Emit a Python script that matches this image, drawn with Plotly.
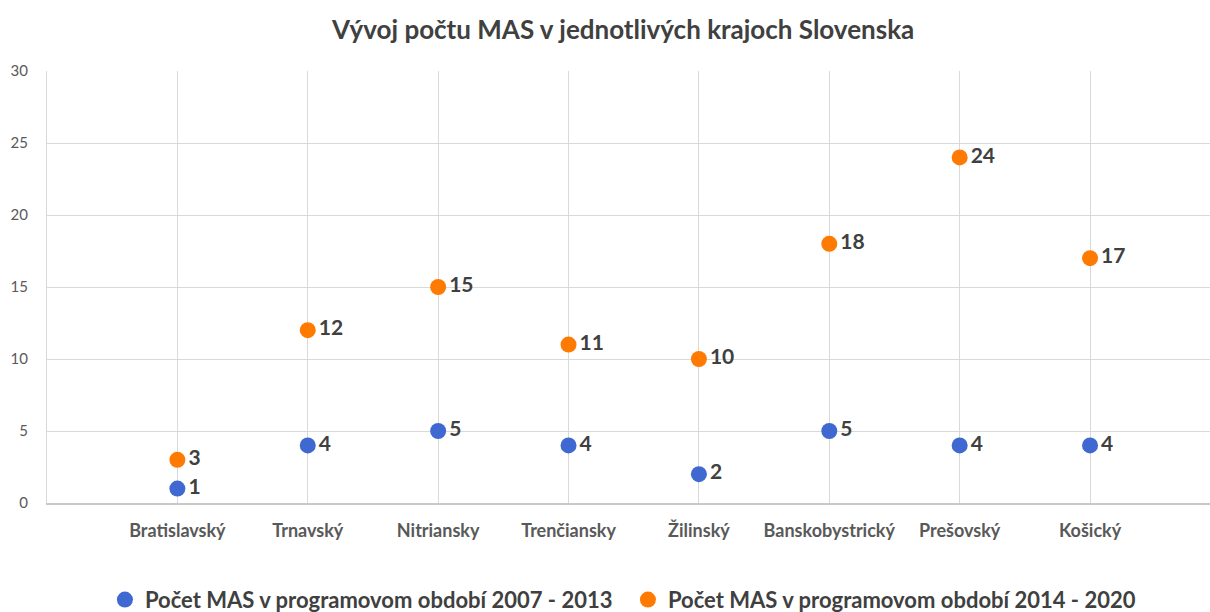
import plotly.graph_objects as go

# kraje a počty MAS
kraje = ["Bratislavský", "Trnavský", "Nitriansky", "Trenčiansky", "Žilinský",
         "Banskobystrický", "Prešovský", "Košický"]
pozicie = [1, 2, 3, 4, 5, 6, 7, 8]
mas_2007_2013 = [1, 4, 5, 4, 2, 5, 4, 4]
mas_2014_2020 = [3, 12, 15, 11, 10, 18, 24, 17]

nazov_1 = "Počet MAS v programovom období 2007 - 2013"
nazov_2 = "Počet MAS v programovom období 2014 - 2020"

font_name = "Lato"
text_color = "#404040"

fig = go.Figure()

fig.add_trace(go.Scatter(
    x=pozicie, y=mas_2007_2013, mode="markers+text", name=nazov_1,
    text=[str(v) for v in mas_2007_2013], textposition="middle right",
    textfont=dict(family=font_name, size=21, color=text_color, weight="bold"),
    marker=dict(color="#3F68D1", size=16),
))
fig.add_trace(go.Scatter(
    x=pozicie, y=mas_2014_2020, mode="markers+text", name=nazov_2,
    text=[str(v) for v in mas_2014_2020], textposition="middle right",
    textfont=dict(family=font_name, size=21, color=text_color, weight="bold"),
    marker=dict(color="#FF7A00", size=16),
))

fig.update_layout(
    width=1210, height=612,
    paper_bgcolor="white", plot_bgcolor="white",
    margin=dict(l=47, r=0, t=71, b=109),
    title=dict(text="Vývoj počtu MAS v jednotlivých krajoch Slovenska",
               x=0.515, xanchor="center", y=0.951, yanchor="middle",
               font=dict(family=font_name, size=26, color=text_color, weight="bold")),
    legend=dict(orientation="h", x=0.4995, xanchor="center",
                yref="container", y=0.02, yanchor="middle",
                font=dict(family=font_name, size=22, color=text_color, weight="bold"),
                itemwidth=30, entrywidth=478, entrywidthmode="pixels"),
    showlegend=True,
)

fig.update_xaxes(
    range=[0, 8.92], tickvals=pozicie, ticktext=kraje,
    showgrid=True, gridcolor="#d9d9d9", gridwidth=1,
    showline=True, linecolor="#c8c8c8", linewidth=1.5,
    zeroline=False, ticklabelstandoff=11,
    tickfont=dict(family=font_name, size=18, color="#595959", weight="bold"),
)
fig.update_yaxes(
    range=[0, 30], dtick=5,
    showgrid=True, gridcolor="#d9d9d9", gridwidth=1,
    showline=True, linecolor="#d9d9d9", linewidth=1,
    zeroline=False, ticklabelstandoff=15,
    tickfont=dict(family=font_name, size=15, color="#595959"),
)

# bez okraja stránky, aby graf sedel presne do okna
fig.write_html("out.html", config={"displayModeBar": False},
               post_script="document.body.style.margin='0';")
